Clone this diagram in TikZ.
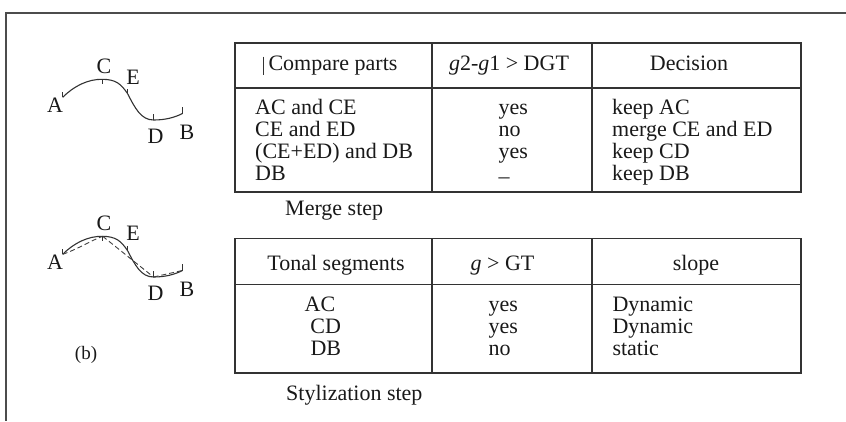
\documentclass[tikz,border=0pt]{standalone}
\usepackage{fontspec}
\setmainfont{Liberation Serif}
\begin{document}
\begin{tikzpicture}[x=1pt,y=-1pt,
  txt/.style={inner sep=0pt, font=\fontsize{22}{22}\selectfont, anchor=base west, text=black!90},
  ctxt/.style={txt, anchor=base},
  rule/.style={draw=black!80, line width=1.4pt},
  frameline/.style={draw=black!70, line width=1.7pt},
  curve/.style={draw=black!80, line width=1.1pt},
  tick/.style={draw=black!80, line width=1pt},
  dashcurve/.style={draw=black!75, line width=0.9pt, dash pattern=on 5pt off 3pt}]
\useasboundingbox (0,0) rectangle (846,421);
% outer frame (top and left)
\draw[frameline] (846,13) -- (5.7,13) -- (5.7,421);

% ---------- curve (a) ----------
\coordinate (a1) at (62.7,97.3);
\coordinate (c1) at (102.7,79.3);
\coordinate (e1) at (127.5,93.5);
\coordinate (d1) at (153.5,120);
\coordinate (b1) at (182.3,113.5);
\draw[curve] (a1) .. controls (74,86) and (88,79) .. (c1)
  .. controls (116,79.5) and (121,84) .. (e1)
  .. controls (135,108) and (141,120) .. (d1)
  .. controls (165,120) and (175,117.5) .. (b1);
\draw[tick] (a1) -- ++(0,-5);
\draw[tick] (c1) -- ++(0,5);
\draw[tick] (e1) -- ++(0,-5);
\draw[tick] (d1) -- ++(0,-6);
\draw[tick] (b1) -- ++(0,-6.5);
\node[ctxt] (la1) at (55,112) {A};
\node[ctxt] (lc1) at (104,73.3) {C};
\node[ctxt] (le1) at (133,84) {E};
\node[ctxt] (ld1) at (155.5,143.3) {D};
\node[ctxt] (lb1) at (187,139.3) {B};

% ---------- curve (b) ----------
\coordinate (a2) at (62.7,254.3);
\coordinate (c2) at (102.7,236.3);
\coordinate (e2) at (127.5,250.5);
\coordinate (d2) at (153.5,277);
\coordinate (b2) at (182.3,270.5);
\draw[curve] (a2) .. controls (74,243) and (88,236) .. (c2)
  .. controls (116,236.5) and (121,241) .. (e2)
  .. controls (135,265) and (141,277) .. (d2)
  .. controls (165,277) and (175,274.5) .. (b2);
\draw[dashcurve] (a2) .. controls (78,249) and (92,240) .. (c2);
\draw[dashcurve] (c2) -- (d2);
\draw[dashcurve] (d2) -- (b2);
\draw[tick] (a2) -- ++(0,-5);
\draw[tick] (c2) -- ++(0,5);
\draw[tick] (e2) -- ++(0,-5);
\draw[tick] (d2) -- ++(0,-6);
\draw[tick] (b2) -- ++(0,-6.5);
\node[ctxt] (la2) at (55,269.5) {A};
\node[ctxt] (lc2) at (104,230) {C};
\node[ctxt] (le2) at (133,240.5) {E};
\node[ctxt] (ld2) at (155.5,300.3) {D};
\node[ctxt] (lb2) at (187,296.3) {B};
\node[ctxt, font=\fontsize{19}{19}\selectfont] (lbl) at (86,359.3) {(b)};

% ---------- table 1 ----------
\draw[rule] (235,43) rectangle (801,192);
\draw[rule] (235,88) -- (801,88);
\draw[rule] (432,43) -- (432,192);
\draw[rule] (592,43) -- (592,192);
\draw[draw=black!80, line width=0.8pt] (263.3,56.5) -- (263.3,75);
\node[ctxt] (h11) at (333,70) {Compare parts};
\node[ctxt] (h12) at (509,70) {\textit{g}2-\textit{g}1 > DGT};
\node[ctxt] (h13) at (689,70) {Decision};
\node[txt] (r11) at (255,114) {AC and CE};
\node[txt] (r12) at (255,136) {CE and ED};
\node[txt] (r13) at (255,158) {(CE+ED) and DB};
\node[txt] (r14) at (255,180) {DB};
\node[txt] (y11) at (498.3,114) {yes};
\node[txt] (y12) at (498.3,136) {no};
\node[txt] (y13) at (498.3,158) {yes};
\node[txt] (y14) at (498.3,183.5) {–};
\node[txt] (d11) at (612,114) {keep AC};
\node[txt] (d12) at (612,136) {merge CE and ED};
\node[txt] (d13) at (612,158) {keep CD};
\node[txt] (d14) at (612,180) {keep DB};
\node[txt] (cap1) at (285,215) {Merge step};

% ---------- table 2 ----------
\draw[rule] (235,238.5) rectangle (801,373);
\draw[rule] (235,284.5) -- (801,284.5);
\draw[rule] (432,238.5) -- (432,373);
\draw[rule] (592,238.5) -- (592,373);
\node[ctxt] (h21) at (336,270.7) {Tonal segments};
\node[ctxt] (h22) at (502.5,270.7) {\textit{g} > GT};
\node[ctxt] (h23) at (696,270.7) {slope};
\node[ctxt] (r21) at (320,311.7) {AC};
\node[ctxt] (r22) at (325.7,333.3) {CD};
\node[ctxt] (r23) at (325.8,355) {DB};
\node[txt] (y21) at (488.3,311.7) {yes};
\node[txt] (y22) at (488.3,333.3) {yes};
\node[txt] (y23) at (488.3,355) {no};
\node[txt] (s21) at (612.3,311.7) {Dynamic};
\node[txt] (s22) at (612.3,333.3) {Dynamic};
\node[txt] (s23) at (612.3,355) {static};
\node[txt] (cap2) at (286,400) {Stylization step};
\end{tikzpicture}
\end{document}
